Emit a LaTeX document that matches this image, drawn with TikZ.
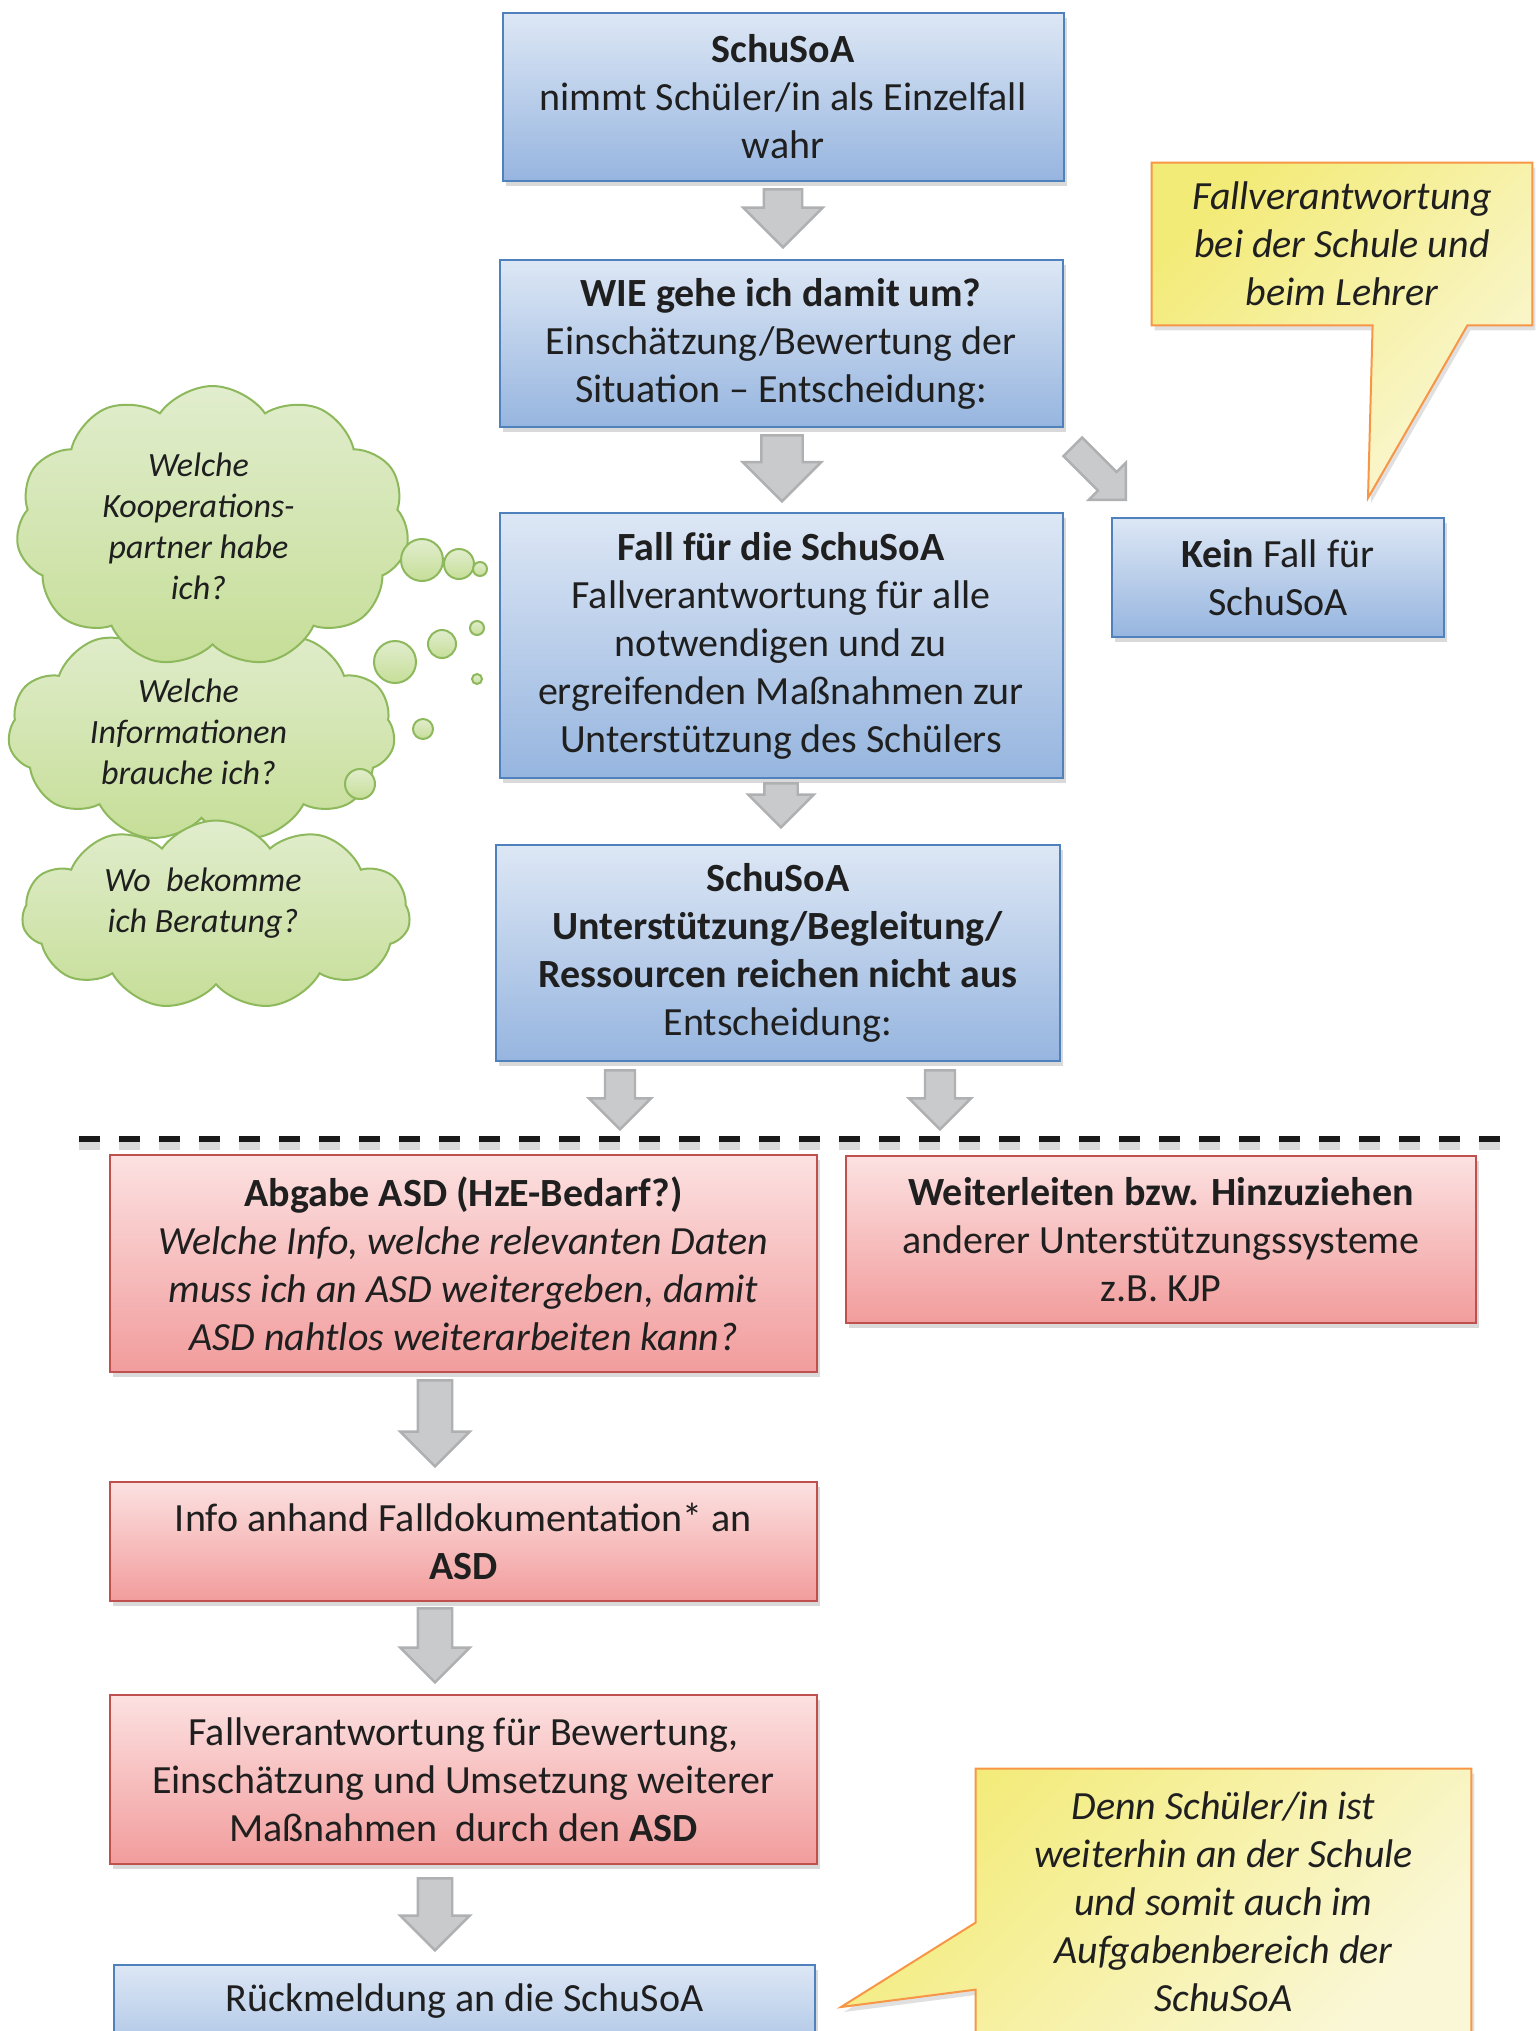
\documentclass[tikz,border=0pt]{standalone}
\usepackage{fontspec}
\setmainfont{Carlito}
\usepackage{tikz}
\usetikzlibrary{positioning,calc,shadows,backgrounds,shapes.symbols,shapes.arrows}
\definecolor{boxtop}{HTML}{DDE7F5}
\definecolor{boxbot}{HTML}{96B5DF}
\definecolor{boxedge}{HTML}{4F81BD}
\definecolor{redtop}{HTML}{FCE1E1}
\definecolor{redbot}{HTML}{F29C9C}
\definecolor{rededge}{HTML}{C0504D}
\definecolor{notetop}{HTML}{F3EB78}
\definecolor{notebot}{HTML}{FAF7D6}
\definecolor{noteedge}{HTML}{F79646}
\definecolor{cloudtop}{HTML}{E1EDCD}
\definecolor{cloudbot}{HTML}{C6DE98}
\definecolor{cloudedge}{HTML}{8DB85C}
\definecolor{arrowfill}{HTML}{C9CACC}
\definecolor{arrowedge}{HTML}{AFB0B2}
\definecolor{textdark}{HTML}{1F1F1F}

\begin{document}
\begin{tikzpicture}[
  x=0.5pt, y=-0.5pt,
  bluebox/.style={draw=boxedge, line width=1pt, top color=boxtop, bottom color=boxbot, drop shadow={shadow xshift=1.5pt, shadow yshift=-2.5pt, opacity=0.25, fill=black!60}, font=\fontsize{20}{24}\selectfont\color{textdark}, align=center, inner sep=0pt},
  redbox/.style={bluebox, draw=rededge, top color=redtop, bottom color=redbot},
  notetext/.style={font=\fontsize{20}{24}\selectfont\itshape\color{textdark}, align=center, inner sep=0pt},
  notebox/.style={draw=noteedge, line width=1pt, top color=notetop, bottom color=notebot, shading angle=45, drop shadow={shadow xshift=1.5pt, shadow yshift=-2.5pt, opacity=0.2, fill=black!60}},
  thought/.style={cloud, cloud puffs=11, cloud puff arc=110, cloud ignores aspect, draw=cloudedge, line width=1pt, top color=cloudtop, bottom color=cloudbot, inner sep=0pt},
  thoughttext/.style={font=\fontsize{17}{20.5}\selectfont\itshape\color{textdark}, align=center, inner sep=0pt},
  bubble/.style={circle, draw=cloudedge, line width=1pt, top color=cloudtop, bottom color=cloudbot, inner sep=0pt},
  blockarrow/.style n args={4}{single arrow, draw=arrowedge, line width=1.2pt, fill=arrowfill, inner ysep=0pt, single arrow head indent=0pt, shape border rotate=270, anchor=tip, minimum height=#1, minimum width=#2, inner xsep=#3, single arrow head extend=#4},
  sepline/.style={line width=3pt, dash pattern=on 10.5pt off 9.5pt},
]
\useasboundingbox (0,0) rectangle (1539,2031);

% Main column
\node[bluebox, minimum width=280.5pt, minimum height=84pt] (wahr) at (783,97) {\textbf{SchuSoA}\\nimmt Schüler/in als Einzelfall\\wahr};
\node[bluebox, minimum width=281.5pt, minimum height=83.5pt, below=38.5pt of wahr, xshift=-1pt] (wie) {\textbf{WIE gehe ich damit um?}\\Einschätzung/Bewertung der\\Situation – Entscheidung:};
\node[bluebox, minimum width=281.5pt, minimum height=132.5pt, below=42pt of wie] (fall) {\textbf{Fall für die SchuSoA}\\Fallverantwortung für alle\\notwendigen und zu\\ergreifenden Maßnahmen zur\\Unterstützung des Schülers};
\node[bluebox, minimum width=282pt, minimum height=108pt, below=32.5pt of fall, xshift=-1.5pt] (grenze) {\textbf{SchuSoA}\\\textbf{Unterstützung/Begleitung/}\\\textbf{Ressourcen reichen nicht aus}\\Entscheidung:};
\node[bluebox, minimum width=166pt, minimum height=59.5pt] (kein) at (1278,577.5) {\textbf{Kein} Fall für\\SchuSoA};

% Arrows in the upper part
\node[blockarrow={29pt}{38.5pt}{9pt}{10.25pt}] (a1) at ($(wie.north)+(2,-10)$) {};
\node[blockarrow={33pt}{38pt}{9.75pt}{9.25pt}] (a2) at ($(fall.north)+(1,-9)$) {};
\node[blockarrow={22pt}{31.5pt}{7.75pt}{8pt}] (a3) at ($(grenze.north)+(3,-15)$) {};
\node[blockarrow={37.5pt}{25pt}{0pt}{6.5pt}, shape border rotate=0, rotate=-45, inner ysep=6pt] (a4) at ($(kein.north west)+(16,-16)$) {};
\node[blockarrow={29.5pt}{29.5pt}{6.9pt}{8pt}] (a5) at ($(grenze.south)+(-158,69)$) {};
\node[blockarrow={29.5pt}{29.5pt}{6.9pt}{8pt}] (a6) at ($(grenze.south)+(162,69)$) {};

% Thought clouds
\node[thought, minimum width=193.5pt, minimum height=110pt, label={[thoughttext, xshift=-6.5pt]center:{Welche\\Informationen\\brauche ich?}}] (q2) at (201.5,732) {};
\node[thought, minimum width=196.5pt, minimum height=140.5pt, label={[thoughttext, xshift=-7pt]center:{Welche\\Kooperations-\\partner habe\\ich?}}] (q1) at (212.5,526.5) {};
\node[thought, minimum width=194pt, minimum height=94.5pt, label={[thoughttext, xshift=-6.5pt, yshift=6pt]center:{Wo\ \ bekomme\\ich Beratung?}}] (q3) at (216,915) {};
\foreach \bx/\by/\bd [count=\i] in {422/560/21, 459/564/15, 480/569/7, 395/662/21, 442/644/14, 477/628/7, 477/679/5, 423/729/10, 360/784/15}
  \node[bubble, minimum size=\bd pt] (b\i) at (\bx,\by) {};

% Note top right
\node[notetext, minimum width=190pt, minimum height=81pt] (note1) at (1342,244) {Fallverantwortung\\bei der Schule und\\beim Lehrer};
\coordinate (tip1) at (1368,498);
\begin{scope}[on background layer]
  \draw[notebox] (note1.north west) -- (note1.north east) -- (note1.south east) -- ($(note1.south east)+(-65,0)$) -- (tip1) -- ($(note1.south west)+(221,0)$) -- (note1.south west) -- cycle;
\end{scope}

% Separator
\coordinate (sepL) at (79,1139);
\coordinate (sepR) at (1505,1139);
\draw[sepline, line width=4pt, black!15, transform canvas={yshift=-3.5pt}] (sepL) -- (sepR);
\draw[sepline, black!90] (sepL) -- (sepR);

% Lower part
\node[redbox, minimum width=353.5pt, minimum height=108.5pt] (abgabe) at (463.5,1263.5) {\textbf{Abgabe ASD (HzE-Bedarf?)}\\\textit{Welche Info, welche relevanten Daten}\\\textit{muss ich an ASD weitergeben, damit}\\\textit{ASD nahtlos weiterarbeiten kann?}};
\node[redbox, minimum width=315pt, minimum height=83.5pt] (weiter) at (1161,1239.5) {\textbf{Weiterleiten bzw. Hinzuziehen}\\anderer Unterstützungssysteme\\z.B. KJP};
\node[redbox, minimum width=353.5pt, minimum height=59.5pt, below=54pt of abgabe] (info) {Info anhand Falldokumentation* an\\\textbf{ASD}};
\node[redbox, minimum width=353.5pt, minimum height=84.5pt, below=46pt of info] (asd) {Fallverantwortung für Bewertung,\\Einschätzung und Umsetzung weiterer\\Maßnahmen\ \ durch den \textbf{ASD}};
\node[bluebox, minimum width=350.5pt, inner ysep=0pt, text height=23pt, text depth=40pt, below=49.5pt of asd, xshift=0.5pt] (rueck) {Rückmeldung an die SchuSoA};

\node[blockarrow={43pt}{33.5pt}{8pt}{8.75pt}] (r1) at ($(info.north)+(-28.5,-13)$) {};
\node[blockarrow={37pt}{33.5pt}{8pt}{8.75pt}] (r2) at ($(asd.north)+(-28.5,-10)$) {};
\node[blockarrow={36pt}{33.5pt}{8pt}{8.75pt}] (r3) at ($(rueck.north)+(-29.5,-12)$) {};

% Note bottom right
\node[notetext, minimum width=247.5pt, minimum height=133pt] (note2) at (1223.5,1902) {Denn Schüler/in ist\\weiterhin an der Schule\\und somit auch im\\Aufgabenbereich der\\SchuSoA};
\coordinate (tip2) at (841,2007);
\begin{scope}[on background layer]
  \draw[notebox] (note2.north west) -- (note2.north east) -- (note2.south east) -- (note2.south west) -- ($(note2.north west)+(0,221)$) -- (tip2) -- ($(note2.north west)+(0,154)$) -- cycle;
\end{scope}
\end{tikzpicture}
\end{document}
